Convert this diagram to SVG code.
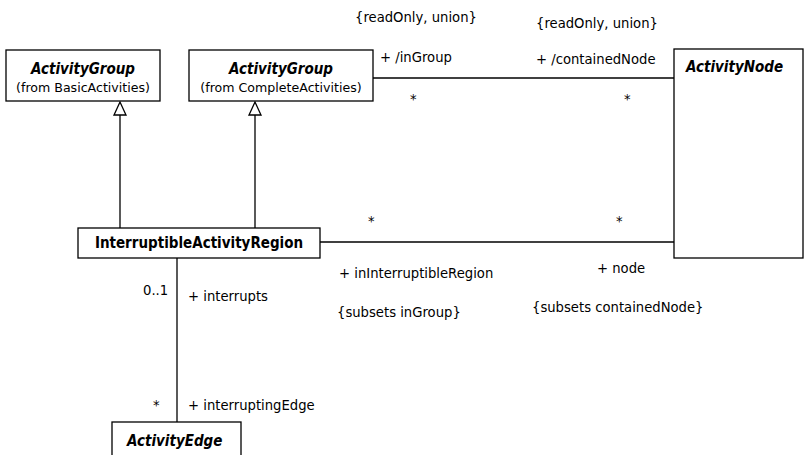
<svg xmlns="http://www.w3.org/2000/svg" width="804" height="455" viewBox="0 0 804 455">
<style>
.box{fill:#fff;stroke:#000;stroke-width:1.3}
.ln{fill:none;stroke:#000;stroke-width:1.3}
.tri{fill:#fff;stroke:#000;stroke-width:1.3}
text{fill:#000}
.t{font-family:"DejaVu Sans",sans-serif;font-size:13.2px}
.s{font-family:"DejaVu Sans",sans-serif;font-size:12.6px}
.bi{font-family:"DejaVu Sans Condensed","DejaVu Sans",sans-serif;font-size:15px;font-weight:bold;font-style:italic}
.b{font-family:"DejaVu Sans Condensed","DejaVu Sans",sans-serif;font-size:15px;font-weight:bold}
.c{text-anchor:middle}
</style>
<rect width="804" height="455" fill="#fff"/>
<g id="connectors">
<line class="ln" x1="120" y1="114" x2="120" y2="228"/>
<polygon class="tri" points="120,102 114,115 126,115"/>
<line class="ln" x1="255" y1="114" x2="255" y2="228"/>
<polygon class="tri" points="255,102 249,115 261,115"/>
<line class="ln" x1="373" y1="78" x2="674" y2="78"/>
<line class="ln" x1="320" y1="242" x2="674" y2="242"/>
<line class="ln" x1="177" y1="258" x2="177" y2="422"/>
</g>
<g id="labels">
<text class="t" x="355" y="22">{readOnly, union}</text>
<text class="t" x="380" y="62">+ /inGroup</text>
<text class="t" x="410" y="104">*</text>
<text class="t" x="536" y="28">{readOnly, union}</text>
<text class="t" x="536" y="64">+ /containedNode</text>
<text class="t" x="624" y="104">*</text>
<text class="t" x="368" y="226">*</text>
<text class="t" x="616" y="226">*</text>
<text class="t" x="339" y="278">+ inInterruptibleRegion</text>
<text class="t" x="337" y="317">{subsets inGroup}</text>
<text class="t" x="597" y="273">+ node</text>
<text class="t" x="532" y="312">{subsets containedNode}</text>
<text class="t" x="143" y="295">0..1</text>
<text class="t" x="188" y="301">+ interrupts</text>
<text class="t" x="153" y="410">*</text>
<text class="t" x="188" y="410">+ interruptingEdge</text>
</g>
<g id="ActivityGroupBasic">
<rect class="box" x="6" y="50" width="154" height="51"/>
<text class="bi c" x="83" y="74">ActivityGroup</text>
<text class="s c" x="83" y="92">(from BasicActivities)</text>
</g>
<g id="ActivityGroupComplete">
<rect class="box" x="189" y="50" width="184" height="51"/>
<text class="bi c" x="281" y="74">ActivityGroup</text>
<text class="s c" x="281" y="92">(from CompleteActivities)</text>
</g>
<g id="ActivityNode">
<rect class="box" x="674" y="49" width="129" height="209"/>
<text class="bi" x="686" y="72">ActivityNode</text>
</g>
<g id="InterruptibleActivityRegion">
<rect class="box" x="78" y="228" width="242" height="30"/>
<text class="b c" x="199" y="248">InterruptibleActivityRegion</text>
</g>
<g id="ActivityEdge">
<rect class="box" x="112" y="422" width="129" height="40"/>
<text class="bi" x="127" y="446">ActivityEdge</text>
</g>
</svg>
